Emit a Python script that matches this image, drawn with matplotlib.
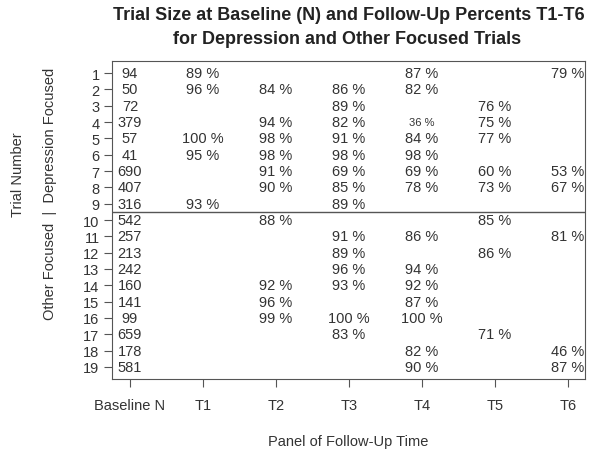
import matplotlib
matplotlib.use('Agg')
import matplotlib.pyplot as plt

plt.rcParams['font.family'] = ['Liberation Sans', 'DejaVu Sans']

trials = list(range(1, 20))
columns = ['Baseline N', 'T1', 'T2', 'T3', 'T4', 'T5', 'T6']

baseline_n = [94, 50, 72, 379, 57, 41, 690, 407, 316, 542,
              257, 213, 242, 160, 141, 99, 659, 178, 581]
t1 = [89, 96, None, None, 100, 95, None, None, 93, None,
      None, None, None, None, None, None, None, None, None]
t2 = [None, 84, None, 94, 98, 98, 91, 90, None, 88,
      None, None, None, 92, 96, 99, None, None, None]
t3 = [None, 86, 89, 82, 91, 98, 69, 85, 89, None,
      91, 89, 96, 93, None, 100, 83, None, None]
t4 = [87, 82, None, 36, 84, 98, 69, 78, None, None,
      86, None, 94, 92, 87, 100, None, 82, 90]
t5 = [None, None, 76, 75, 77, None, 60, 73, None, 85,
      None, 86, None, None, None, None, 71, None, None]
t6 = [79, None, None, None, None, None, 53, 67, None, None,
      81, None, None, None, None, None, None, 46, 87]

followups = [t1, t2, t3, t4, t5, t6]
# one odd cell is printed smaller in the original
small_cells = [(4, 4)]

txt = '#333333'
edge = '#555555'
fs = 10.5

fig = plt.figure(figsize=(6, 4.56), dpi=100)
ax = fig.add_axes([0.1867, 0.1667, 0.7883, 0.6973])

for i, n in zip(trials, baseline_n):
    ax.text(0, i, str(n), ha='center', va='center', fontsize=fs, color=txt)

for col, vals in enumerate(followups, start=1):
    for i, v in zip(trials, vals):
        if v is None:
            continue
        size = 8 if (i, col) in small_cells else fs
        ax.text(col, i, f'{v} %', ha='center', va='center', fontsize=size, color=txt)

ax.axhline(9.5, color=edge, lw=1)

ax.set_xlim(-0.245, 6.235)
ax.set_ylim(19.735, 0.265)
ax.set_xticks(range(len(columns)))
ax.set_xticklabels(columns)
ax.set_yticks(trials)
ax.set_yticklabels([str(t) for t in trials])
ax.tick_params(axis='both', labelsize=fs, colors=edge, labelcolor=txt, length=6)
ax.tick_params(axis='x', pad=8)
ax.tick_params(axis='y', pad=3)
for s in ax.spines.values():
    s.set_color(edge)

fig.text(0.582, 0.965, 'Trial Size at Baseline (N) and Follow-Up Percents T1-T6',
         ha='center', va='center', fontsize=13, fontweight='bold', color='#222222')
fig.text(0.579, 0.914, 'for Depression and Other Focused Trials',
         ha='center', va='center', fontsize=13, fontweight='bold', color='#222222')
fig.text(0.58, 0.031, 'Panel of Follow-Up Time', ha='center', va='center',
         fontsize=fs, color=txt)
fig.text(0.03, 0.616, 'Trial Number', ha='center', va='center', rotation=90,
         fontsize=fs, color=txt)
fig.text(0.083, 0.575, 'Other Focused  |  Depression Focused', ha='center', va='center',
         rotation=90, fontsize=fs, color=txt)

fig.savefig('out.png', dpi=100)
